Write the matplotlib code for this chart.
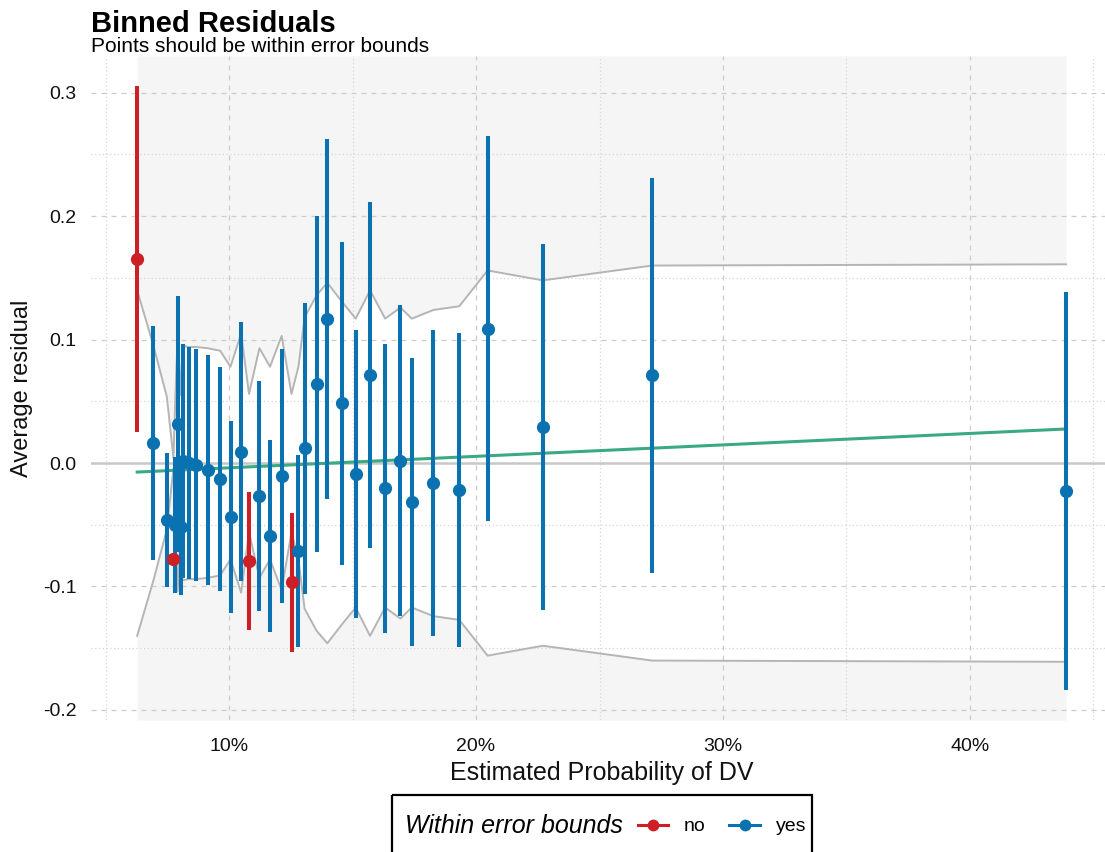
import numpy as np
import matplotlib
matplotlib.use("Agg")
import matplotlib.pyplot as plt
from matplotlib.lines import Line2D
from matplotlib.patches import Rectangle
from matplotlib.ticker import MultipleLocator, FuncFormatter

plt.rcParams['font.family'] = ['Liberation Sans', 'DejaVu Sans']

# Binned residuals: mean estimated probability per bin, mean residual,
# and the half-width of the error bounds (±2 SE) for each bin.
est_prob = [0.0628, 0.0694, 0.0748, 0.0775, 0.0783, 0.0792, 0.0804, 0.0812,
            0.0836, 0.0868, 0.0914, 0.0964, 0.1006, 0.1049, 0.1081, 0.1123,
            0.1166, 0.1213, 0.1253, 0.1281, 0.1306, 0.1355, 0.1398, 0.1456,
            0.1513, 0.1571, 0.1632, 0.1694, 0.1740, 0.1827, 0.1932, 0.2047,
            0.2271, 0.2713, 0.4389]
avg_resid = [0.1653, 0.0162, -0.0462, -0.0778, -0.0502, 0.0316, -0.0519, 0.0016,
             0.0000, -0.0016, -0.0057, -0.0130, -0.0438, 0.0092, -0.0794, -0.0267,
             -0.0592, -0.0105, -0.0967, -0.0711, 0.0119, 0.0640, 0.1167, 0.0484,
             -0.0089, 0.0711, -0.0205, 0.0020, -0.0316, -0.0165, -0.0219, 0.1088,
             0.0292, 0.0713, -0.0227]
bound = [0.140, 0.095, 0.054, 0.004, 0.055, 0.104, 0.055, 0.095,
         0.094, 0.094, 0.093, 0.091, 0.078, 0.105, 0.056, 0.093,
         0.078, 0.103, 0.056, 0.078, 0.118, 0.136, 0.146, 0.131,
         0.117, 0.140, 0.117, 0.126, 0.117, 0.124, 0.127, 0.156,
         0.148, 0.160, 0.161]
within = ["no", "yes", "yes", "no", "yes", "yes", "yes", "yes",
          "yes", "yes", "yes", "yes", "yes", "yes", "no", "yes",
          "yes", "yes", "no", "yes", "yes", "yes", "yes", "yes",
          "yes", "yes", "yes", "yes", "yes", "yes", "yes", "yes",
          "yes", "yes", "yes"]

# Linear trend of residuals across the probability range
trend_prob = [0.0628, 0.4389]
trend_resid = [-0.0073, 0.0276]

x_ticks = [0.10, 0.20, 0.30, 0.40]
y_ticks = [-0.2, -0.1, 0.0, 0.1, 0.2, 0.3]

group_colors = {"no": "#cc2026", "yes": "#0a72b0"}
shade_color = "#f5f5f5"
bound_color = "#b5b5b5"
trend_color = "#3aaa80"

x = np.array(est_prob)
r = np.array(avg_resid)
b = np.array(bound)
lo, hi = r - b, r + b

# ggplot-style 5% expansion of the data ranges
def expand(vmin, vmax, f=0.05):
    d = (vmax - vmin) * f
    return vmin - d, vmax + d

xlim = expand(x.min(), x.max())
ylim = expand(min(lo.min(), (-b).min()), max(hi.max(), b.max()))

W, H = 1105, 852
fig = plt.figure(figsize=(W / 100, H / 100), dpi=100)
px_left, px_right = 90.7, 1112.5
px_top, px_bottom = 56.0, 720.0
ax = fig.add_axes([px_left / W, 1 - px_bottom / H,
                   (px_right - px_left) / W, (px_bottom - px_top) / H])
ax.set_xlim(*xlim)
ax.set_ylim(*ylim)

# Shaded area outside the error bounds
ax.fill_between(x, b, ylim[1], color=shade_color, lw=0, zorder=0.2)
ax.fill_between(x, ylim[0], -b, color=shade_color, lw=0, zorder=0.2)

# Grid
ax.set_axisbelow(True)
ax.xaxis.set_major_locator(matplotlib.ticker.FixedLocator(x_ticks))
ax.yaxis.set_major_locator(matplotlib.ticker.FixedLocator(y_ticks))
ax.xaxis.set_minor_locator(MultipleLocator(0.05))
ax.yaxis.set_minor_locator(MultipleLocator(0.05))
ax.grid(which='major', color='#cccccc', lw=0.9, ls=(0, (4, 4)))
ax.grid(which='minor', color='#d6d6d6', lw=0.9, ls=(0, (1, 2)))
ax.xaxis.set_major_formatter(FuncFormatter(lambda v, p: f"{v*100:.0f}%"))
ax.yaxis.set_major_formatter(FuncFormatter(lambda v, p: f"{v:.1f}".replace("-0.0", "0.0")))
ax.tick_params(which='both', length=0)
ax.tick_params(axis='x', labelsize=14, pad=13, labelcolor='#111111')
ax.tick_params(axis='y', labelsize=14, pad=10, labelcolor='#111111')
for s in ax.spines.values():
    s.set_visible(False)

# Zero reference line, error bounds and trend
ax.axhline(0, color='#c8c8c8', lw=1.8, zorder=1)
ax.plot(x, b, color=bound_color, lw=1.4, zorder=1.2)
ax.plot(x, -b, color=bound_color, lw=1.4, zorder=1.2)
ax.plot(trend_prob, trend_resid, color=trend_color, lw=2.2, zorder=1.5)

# Points with error bars
for grp in ["no", "yes"]:
    m = np.array([w == grp for w in within])
    ax.vlines(x[m], lo[m], hi[m], color=group_colors[grp], lw=2.9, zorder=3)
    ax.plot(x[m], r[m], 'o', ms=9.5, color=group_colors[grp], mec='none', zorder=3.5)

ax.set_xlabel("Estimated Probability of DV", fontsize=18, labelpad=4, color='#111111')
ax.set_ylabel("Average residual", fontsize=17, labelpad=7, color='#111111')

# Titles
fig.text(91 / W, 1 - 32.5 / H, "Binned Residuals", fontsize=21, fontweight='bold',
         ha='left', va='baseline')
fig.text(91 / W, 1 - 52 / H, "Points should be within error bounds", fontsize=15,
         ha='left', va='baseline')

# Legend box drawn below the panel
lax = fig.add_axes([0, 0, 1, 1], facecolor='none')
lax.set_xlim(0, W)
lax.set_ylim(H, 0)
lax.axis('off')
lax.add_patch(Rectangle((391.5, 795), 420, 70, fill=False, ec='black', lw=1.6,
                        clip_on=False))
lax.text(405, 833, "Within error bounds", fontsize=18, style='italic',
         ha='left', va='baseline')
for (x0, x1, lab, grp) in [(638, 668, "no", "no"), (729, 760, "yes", "yes")]:
    c = group_colors[grp]
    lax.add_line(Line2D([x0, x1], [825, 825], color=c, lw=2.2))
    lax.add_line(Line2D([(x0 + x1) / 2], [825], marker='o', ms=8.5, color=c, mec='none'))
    lax.text(x1 + 16, 831, lab, fontsize=14, ha='left', va='baseline')

fig.savefig("out.png", dpi=100, facecolor='white')
